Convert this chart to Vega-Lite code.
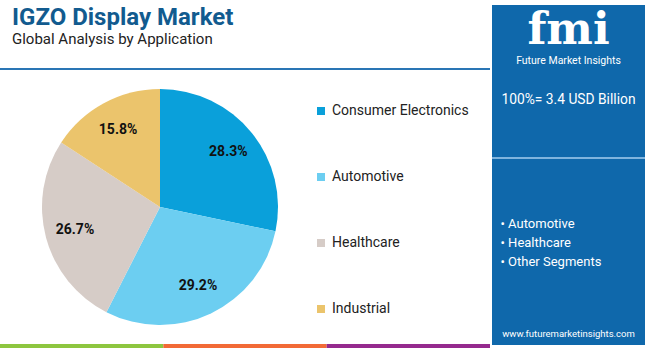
{
  "$schema": "https://vega.github.io/schema/vega-lite/v6.json",
  "background": "#ffffff",
  "padding": {"left": 0, "right": 0, "top": 5, "bottom": 0},
  "config": {
    "view": {"stroke": null},
    "font": "Roboto",
    "text": {"font": "Roboto"}
  },
  "datasets": {
    "shares": [
      {"Application": "Consumer Electronics", "Share": 28.3, "Label": "28.3%", "Rank": 1},
      {"Application": "Automotive", "Share": 29.2, "Label": "29.2%", "Rank": 2},
      {"Application": "Healthcare", "Share": 26.7, "Label": "26.7%", "Rank": 3},
      {"Application": "Industrial", "Share": 15.8, "Label": "15.8%", "Rank": 4}
    ]
  },
  "spacing": 2,
  "hconcat": [
    {
      "spacing": 0,
      "resolve": {"scale": {"color": "independent"}},
      "vconcat": [
        {
          "width": 490,
          "height": 63,
          "layer": [
            {
              "data": {"values": [{"t": "IGZO Display Market"}]},
              "mark": {"type": "text", "align": "left", "baseline": "alphabetic", "dx": -233, "dy": -11.5, "fontSize": 24, "fontWeight": "bold", "color": "#125B8F", "letterSpacing": 0.6},
              "encoding": {"text": {"field": "t"}}
            },
            {
              "data": {"values": [{"t": "Global Analysis by Application"}]},
              "mark": {"type": "text", "align": "left", "baseline": "alphabetic", "dx": -233, "dy": 7, "fontSize": 15, "color": "#222222"},
              "encoding": {"text": {"field": "t"}}
            }
          ]
        },
        {
          "width": 490,
          "height": 2,
          "data": {"values": [{"part": "rule"}]},
          "mark": {"type": "bar", "color": "#2A76B5"},
          "encoding": {}
        },
        {
          "width": 320,
          "height": 274,
          "data": {"name": "shares"},
          "encoding": {
            "theta": {"field": "Share", "type": "quantitative", "stack": true},
            "order": {"field": "Rank", "type": "quantitative"},
            "color": {
              "field": "Application",
              "type": "nominal",
              "sort": ["Consumer Electronics", "Automotive", "Healthcare", "Industrial"],
              "scale": {
                "domain": ["Consumer Electronics", "Automotive", "Healthcare", "Industrial"],
                "range": ["#0AA0DA", "#6CCEF1", "#D6CCC7", "#EBC46C"]
              },
              "legend": {
                "orient": "none",
                "legendX": 314,
                "legendY": 34,
                "title": null,
                "symbolType": "square",
                "symbolSize": 64,
                "symbolStrokeWidth": 0,
                "labelFont": "Roboto",
                "labelFontSize": 14,
                "labelColor": "#222222",
                "labelOffset": 4,
                "rowPadding": 52
              }
            }
          },
          "layer": [
            {"mark": {"type": "arc", "radius": 118}},
            {
              "mark": {"type": "text", "radius": 88, "fontSize": 14, "fontWeight": "bold", "font": "Roboto"},
              "encoding": {
                "text": {"field": "Label", "type": "nominal"},
                "color": {"value": "#111111"}
              }
            }
          ]
        },
        {
          "width": 490,
          "height": 4,
          "data": {"values": [{"Segment": "A"}, {"Segment": "B"}, {"Segment": "C"}]},
          "mark": "bar",
          "encoding": {
            "x": {"field": "Segment", "type": "nominal", "axis": null, "scale": {"paddingInner": 0, "paddingOuter": 0}},
            "color": {"field": "Segment", "type": "nominal", "legend": null, "scale": {"domain": ["A", "B", "C"], "range": ["#8DC63F", "#F26A36", "#952A8E"]}}
          }
        }
      ]
    },
    {
      "spacing": 0,
      "vconcat": [
        {
          "width": 153, "height": 48,
          "data": {"values": [{"t": "fmi"}]},
          "layer": [
            {"mark": {"type": "bar", "color": "#0F68AB"}, "encoding": {}},
            {"mark": {"type": "text", "font": "DejaVu Serif", "fontSize": 44, "fontWeight": "bold", "color": "#ffffff", "baseline": "alphabetic", "dy": 15, "letterSpacing": 6}, "encoding": {"text": {"field": "t"}}}
          ]
        },
        {
          "width": 153, "height": 17,
          "data": {"values": [{"t": "Future Market Insights"}]},
          "layer": [
            {"mark": {"type": "bar", "color": "#0F68AB"}, "encoding": {}},
            {"mark": {"type": "text", "fontSize": 10.5, "color": "#ffffff", "baseline": "middle", "dy": -1}, "encoding": {"text": {"field": "t"}}}
          ]
        },
        {
          "width": 153, "height": 64,
          "data": {"values": [{"t": "100%= 3.4 USD Billion"}]},
          "layer": [
            {"mark": {"type": "bar", "color": "#0F68AB"}, "encoding": {}},
            {"mark": {"type": "text", "fontSize": 13.8, "color": "#ffffff", "baseline": "middle", "dy": -2.5}, "encoding": {"text": {"field": "t"}}}
          ]
        },
        {
          "width": 153, "height": 23,
          "data": {"values": [{"t": ""}]},
          "mark": {"type": "bar", "color": "#0F68AB"}, "encoding": {}
        },
        {
          "width": 153, "height": 2,
          "data": {"values": [{"t": ""}]},
          "mark": {"type": "bar", "color": "#7FB4DE"}, "encoding": {}
        },
        {
          "width": 153, "height": 57,
          "data": {"values": [{"t": ""}]},
          "mark": {"type": "bar", "color": "#0F68AB"}, "encoding": {}
        },
        {
          "width": 153, "height": 57,
          "data": {"values": [{"t": "• Automotive"}, {"t": "• Healthcare"}, {"t": "• Other Segments"}]},
          "layer": [
            {"mark": {"type": "bar", "color": "#0F68AB"}, "encoding": {}},
            {
              "mark": {"type": "text", "fontSize": 13, "color": "#ffffff", "align": "left", "baseline": "middle", "dx": -68, "dy": -2},
              "encoding": {
                "text": {"field": "t"},
                "y": {"field": "t", "type": "nominal", "sort": null, "axis": null}
              }
            }
          ]
        },
        {
          "width": 153, "height": 55,
          "data": {"values": [{"t": ""}]},
          "mark": {"type": "bar", "color": "#0F68AB"}, "encoding": {}
        },
        {
          "width": 153, "height": 17,
          "data": {"values": [{"t": "www.futuremarketinsights.com"}]},
          "layer": [
            {"mark": {"type": "bar", "color": "#0F68AB"}, "encoding": {}},
            {"mark": {"type": "text", "fontSize": 9.5, "color": "#ffffff", "baseline": "middle", "dy": -3}, "encoding": {"text": {"field": "t"}}}
          ]
        }
      ]
    }
  ]
}
